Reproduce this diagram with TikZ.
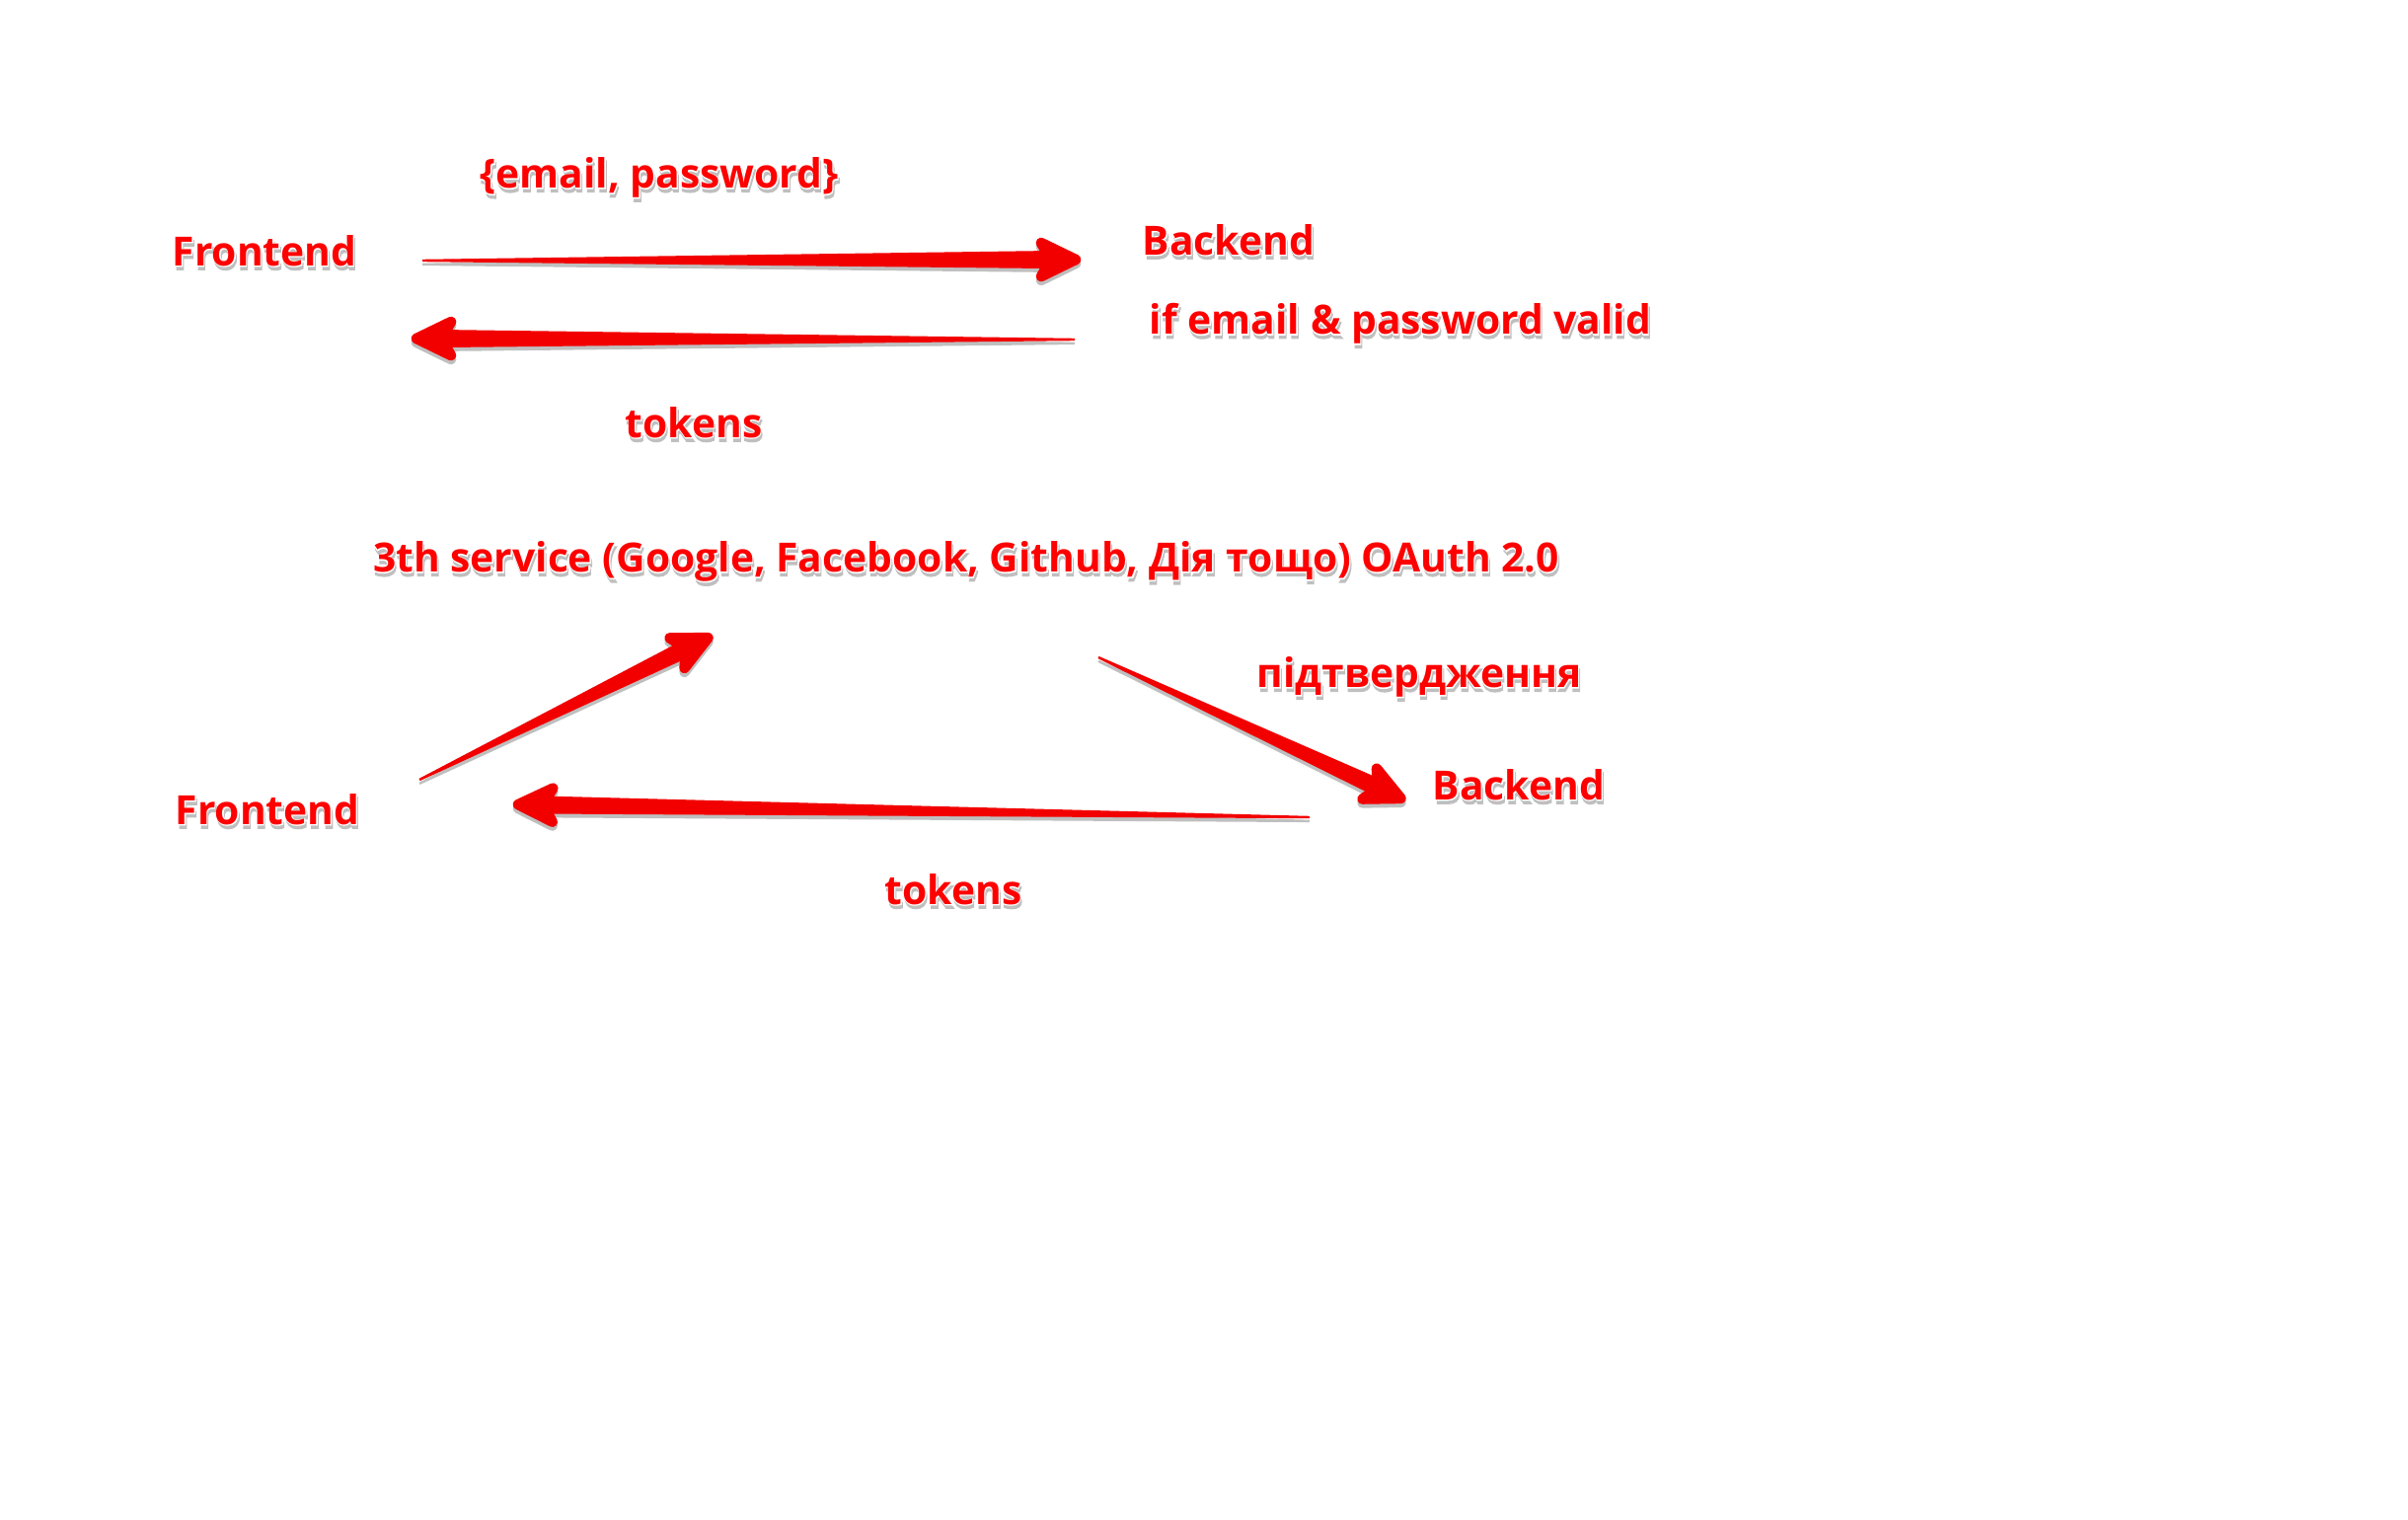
\documentclass[tikz,border=0pt]{standalone}
\usepackage{fontspec}
\setmainfont{Open Sans}
\newfontfamily\lblfont{Open Sans}
\newfontfamily\halofont{Open Sans}[BoldFeatures={FakeBold=4}]
\usetikzlibrary{calc,positioning,arrows.meta}
\definecolor{ArrowRed}{HTML}{F20000}
\definecolor{LabelRed}{HTML}{FF0000}

% red text with white halo and grey drop shadow
\newcommand\halotext[1]{%
  \makebox[0pt][l]{\hspace*{0.3pt}\raisebox{-1pt}{\color{black!25}\halofont\bfseries #1}}%
  \makebox[0pt][l]{\color{white}\halofont\bfseries #1}%
  {\color{LabelRed}\lblfont\bfseries #1}}

\tikzset{
  lbl/.style={inner sep=2pt, font=\fontsize{11.6}{14}\selectfont},
}

% tapered arrow from #1 (thin) to #2 (tip)
\newcommand\fatarrow[2]{%
  \coordinate (sk) at ($(#2)!0.32cm!(#1)$);
  \coordinate (tp) at ($(#2)!0.05cm!(#1)$);
  \coordinate (hb) at ($(#2)!0.40cm!(#1)$);
  \coordinate (hn) at ($(#2)!0.30cm!(#1)$);
  \foreach \tone/\dy in {black!25/-1.1pt, ArrowRed/0pt}{
    \begin{scope}[transform canvas={yshift=\dy}]
      \fill[\tone] ($(#1)!0.012cm!90:(#2)$) -- ($(sk)!0.09cm!-90:(#1)$)
        -- ($(sk)!0.09cm!90:(#1)$) -- ($(#1)!0.012cm!-90:(#2)$) -- cycle;
      \filldraw[\tone, line width=3pt, line join=round]
        (tp) -- ($(hb)!0.17cm!90:(tp)$) -- (hn) -- ($(hb)!0.17cm!-90:(tp)$) -- cycle;
    \end{scope}
  }
}

\begin{document}
\begin{tikzpicture}[x=0.01cm,y=-0.01cm]
  \useasboundingbox (0,0) rectangle (2440,1540);

  % login with email
  \node[lbl] (fe1) at (268,256) {\halotext{Frontend}};
  \node[lbl] (creds) at (668,182) {\halotext{\{email, password\}}};
  \node[lbl] (be1) at (1245,245) {\halotext{Backend}};
  \node[lbl] (valid) at (1419,330) {\halotext{if email \& password valid}};
  \node[lbl] (tok1) at (703,430) {\halotext{tokens}};

  \coordinate (a1s) at (428,264);
  \coordinate (a1e) at (1095,263);
  \coordinate (a2s) at (1089,344);
  \coordinate (a2e) at (417,343);
  \fatarrow{a1s}{a1e}
  \fatarrow{a2s}{a2e}

  % login with oauth
  \node[lbl] (oauth) at (979,571) {\halotext{3th service (Google, Facebook, Github, Дія тощо) OAuth 2.0}};
  \node[lbl] (conf) at (1438,688) {\halotext{підтвердження}};
  \node[lbl] (be2) at (1539,797) {\halotext{Backend}};
  \node[lbl] (fe2) at (271,822) {\halotext{Frontend}};
  \node[lbl] (tok2) at (966,903) {\halotext{tokens}};

  \coordinate (a3s) at (425,790);
  \coordinate (a3e) at (722,644);
  \coordinate (a4s) at (1113,666);
  \coordinate (a4e) at (1424,811);
  \coordinate (a5s) at (1327,828);
  \coordinate (a5e) at (520,815);
  \fatarrow{a3s}{a3e}
  \fatarrow{a4s}{a4e}
  \fatarrow{a5s}{a5e}
\end{tikzpicture}
\end{document}
